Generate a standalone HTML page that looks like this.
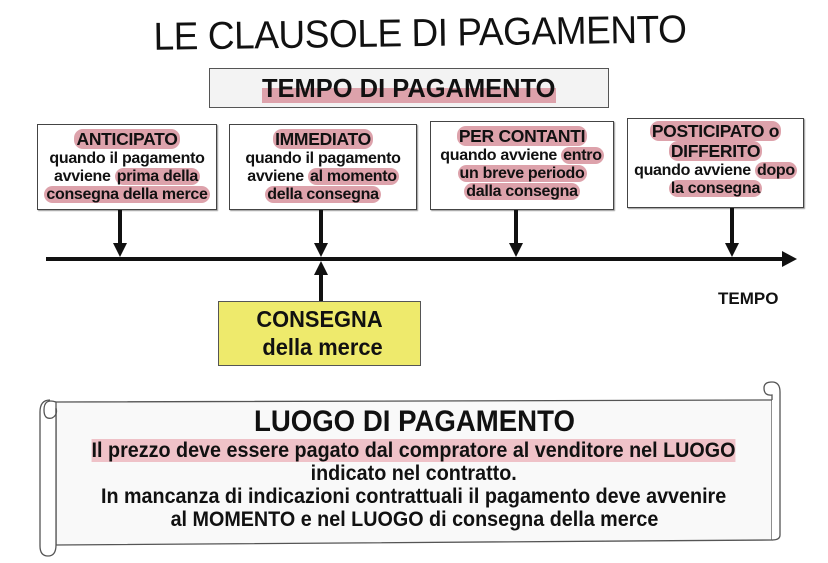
<!DOCTYPE html>
<html><head><meta charset="utf-8"><style>
body{margin:0;width:828px;height:563px;background:#fff;position:relative;overflow:hidden;font-family:"Liberation Sans",sans-serif;color:#111}
.a{position:absolute}
.box{position:absolute;border:1.5px solid #444;background:#fff;box-shadow:1px 1px 1px #999;text-align:center;font-weight:bold;font-size:16px;line-height:18px;letter-spacing:-0.3px;padding-top:5px;box-sizing:border-box;white-space:nowrap}
.h{background:#dda2ab;border-radius:9px;padding:0 2px}
.t{font-size:17.5px}
.cond{display:inline-block;transform:scaleX(0.85);white-space:nowrap}
</style></head><body>
<div class="a" style="left:130px;top:12px;width:580px;text-align:center;font-size:39px;transform:rotate(-0.8deg) scaleX(0.95);letter-spacing:-0.5px">LE CLAUSOLE DI PAGAMENTO</div>
<div class="a" style="left:209px;top:68px;width:400px;height:40px;border:1.5px solid #555;background:#f3f3f3;box-sizing:border-box;text-align:center;font-weight:bold;font-size:26px;line-height:38px"><span class="cond" style="transform:scaleX(0.98)"><span style="background:linear-gradient(transparent 50%,#dda2ab 50%)">TEMPO DI PAGAMENTO</span></span></div>

<div class="box" style="left:37px;top:124px;width:180px;height:86px"><span class="h t">ANTICIPATO</span><br>quando il pagamento<br>avviene <span class="h">prima della</span><br><span class="h">consegna della merce</span></div>
<div class="box" style="left:229px;top:124px;width:188px;height:86px"><span class="h t">IMMEDIATO</span><br>quando il pagamento<br>avviene <span class="h">al momento</span><br><span class="h">della consegna</span></div>
<div class="box" style="left:430px;top:121px;width:184px;height:89px"><span class="h t">PER CONTANTI</span><br>quando avviene <span class="h">entro</span><br><span class="h">un breve periodo</span><br><span class="h">dalla consegna</span></div>
<div class="box" style="left:627px;top:118px;width:177px;height:90px;padding-top:3px"><span class="h t">POSTICIPATO o</span><br><span class="h t">DIFFERITO</span><br>quando avviene <span class="h">dopo</span><br><span class="h">la consegna</span></div>

<svg class="a" style="left:0;top:0" width="828" height="563">
<g fill="#111" stroke="#111">
<line x1="46" y1="259" x2="785" y2="259" stroke-width="4"/>
<polygon points="782,251 797,259 782,267" stroke="none"/>
<line x1="120" y1="210" x2="120" y2="246" stroke-width="4"/><polygon points="113,243 127,243 120,257" stroke="none"/>
<line x1="321" y1="210" x2="321" y2="246" stroke-width="4"/><polygon points="314,243 328,243 321,257" stroke="none"/>
<line x1="516" y1="210" x2="516" y2="246" stroke-width="4"/><polygon points="509,243 523,243 516,257" stroke="none"/>
<line x1="732" y1="208" x2="732" y2="246" stroke-width="4"/><polygon points="725,243 739,243 732,257" stroke="none"/>
<line x1="321" y1="302" x2="321" y2="272" stroke-width="4"/><polygon points="314,275 328,275 321,261" stroke="none"/>
</g>
<g fill="#fff" stroke="#555" stroke-width="1.3">
<path d="M56 402 L772 400 L772 540 L56 545 Z" fill="#f9f9f9"/>
<path d="M56 402 Q44 398 44 410 Q44 420 52 418 Q58 415 56 408 L56 545 Q56 556 48 556 Q40 556 40 546 L40 412 Q40 400 50 400"/>
<path d="M772 400 L772 395 Q764 396 764 388 Q764 382 772 382 Q780 382 780 392 L780 535 Q780 540 772 540"/>
</g>
</svg>
<div class="a" style="left:718px;top:289px;font-weight:bold;font-size:17px">TEMPO</div>
<div class="a" style="left:218px;top:301px;width:203px;height:65px;background:#eeea6c;border:1.5px solid #555;box-sizing:border-box;text-align:center;font-weight:bold;font-size:23px;line-height:28px;padding-top:3px"><span class="cond" style="transform:scaleX(0.95)">CONSEGNA<br>&nbsp;della merce</span></div>

<div class="a" style="left:56px;top:404px;width:716px;text-align:center;font-weight:bold">
<div style="font-size:30px;line-height:35px"><span class="cond" style="transform:scaleX(0.92)">LUOGO DI PAGAMENTO</span></div>
<div style="font-size:21px;line-height:23px"><span class="cond" style="transform:scaleX(0.94)"><span style="background:#efc2c8">Il prezzo deve essere pagato dal compratore al venditore nel LUOGO</span></span></div>
<div style="font-size:21px;line-height:23px"><span class="cond" style="transform:scaleX(0.94)">indicato nel contratto.</span></div>
<div style="font-size:21px;line-height:23px"><span class="cond" style="transform:scaleX(0.94)">In mancanza di indicazioni contrattuali il pagamento deve avvenire</span></div>
<div style="font-size:21px;line-height:23px"><span class="cond" style="transform:scaleX(0.94)">al MOMENTO e nel LUOGO di consegna della merce</span></div>
</div>
</body></html>
